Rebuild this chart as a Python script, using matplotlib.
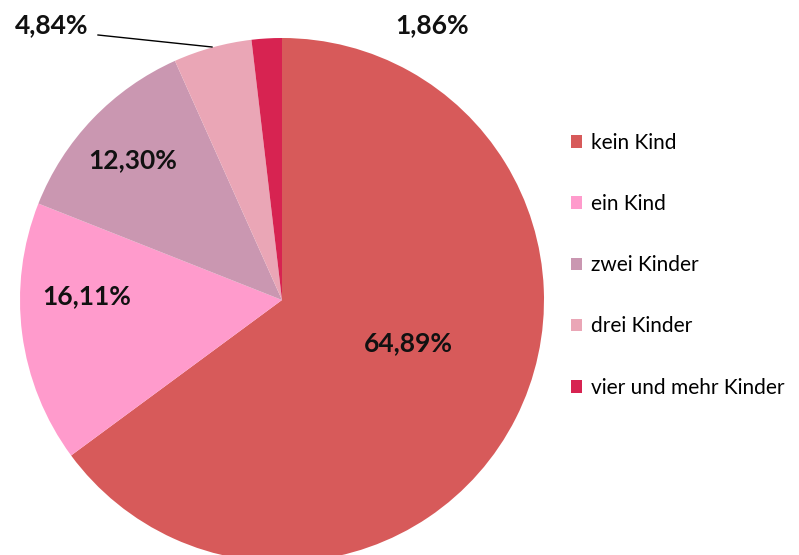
import matplotlib
matplotlib.use("Agg")
import matplotlib.pyplot as plt

categories = ["kein Kind", "ein Kind", "zwei Kinder", "drei Kinder", "vier und mehr Kinder"]
shares = [64.89, 16.11, 12.30, 4.84, 1.86]
label_texts = ["64,89%", "16,11%", "12,30%", "4,84%", "1,86%"]
colors = ["#D75A5A", "#FF9BCC", "#CA97B1", "#EAA6B6", "#D72351"]

plt.rcParams["font.family"] = ["Lato", "DejaVu Sans"]

W, H = 799, 555
fig = plt.figure(figsize=(W / 100, H / 100), dpi=100)
ax = fig.add_axes([0, 0, 1, 1])

# pie centre / radius in pixel coords (y up)
cx, cy, r = 282, H - 300, 262
wedges, _ = ax.pie(shares, colors=colors, startangle=90, counterclock=False,
                   center=(cx, cy), radius=r, frame=True)
ax.set_xlim(0, W)
ax.set_ylim(0, H)
ax.set_aspect("equal")
ax.axis("off")

# label positions (pixel coords, top-left origin)
label_pos = [(408, 343), (87, 296), (133, 160), (52, 25), (432, 25)]
for txt, (x, y) in zip(label_texts, label_pos):
    ax.text(x, H - y, txt, ha="center", va="center", fontsize=19,
            fontweight="bold", color="#111111")

# leader line for 4,84%
ax.plot([98, 212], [H - 35, H - 47], color="black", lw=1)

leg = fig.legend(wedges, categories, loc="upper left",
                 bbox_to_anchor=(552 / W, 1 - 114 / H), frameon=False,
                 fontsize=15, labelspacing=1.98, handlelength=0.55,
                 handleheight=0.55, handletextpad=0.4)

fig.savefig("out.png", dpi=100)
